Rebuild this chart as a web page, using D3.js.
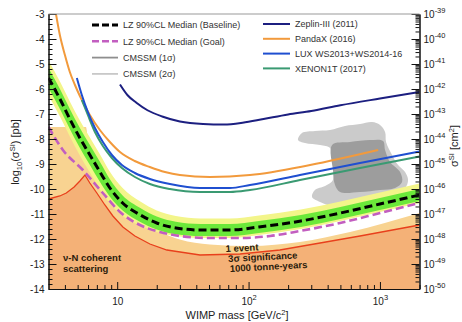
<!DOCTYPE html>
<html><head><meta charset="utf-8">
<script src="https://cdn.jsdelivr.net/npm/d3@7"></script>
<style>
body{margin:0;background:#fff}
svg{display:block}
text{font-family:"Liberation Sans",Arial,Helvetica,sans-serif}
</style>
</head><body>
<svg id="chart" width="462" height="322"></svg>
<script>
// WIMP mass (GeV/c^2) grid of the LZ projection, log10 cross-section in pb
const lzMass      = [3, 3.7, 4.4, 5.2, 6.2, 7.4, 8.8, 11, 15, 20, 28, 43, 72, 120, 250, 500, 1000, 2000];
const lzBaseline  = [-5.56, -6.44, -7.24, -7.96, -8.64, -9.32, -9.96, -10.56, -11.04, -11.36, -11.56, -11.64, -11.64, -11.52, -11.28, -10.96, -10.60, -10.24];
const lzGreenHi   = [-5.16, -6.04, -6.84, -7.56, -8.24, -8.92, -9.61, -10.26, -10.76, -11.10, -11.31, -11.40, -11.40, -11.28, -11.04, -10.72, -10.36, -10.00];
const lzGreenLo   = [-5.96, -6.84, -7.64, -8.36, -9.04, -9.72, -10.31, -10.86, -11.32, -11.62, -11.81, -11.88, -11.88, -11.76, -11.52, -11.20, -10.84, -10.48];
const lzYellowHi  = [-4.86, -5.74, -6.54, -7.26, -7.94, -8.62, -9.31, -9.96, -10.50, -10.86, -11.08, -11.18, -11.18, -11.06, -10.82, -10.50, -10.14, -9.78];
const lzYellowLo  = [-6.26, -7.14, -7.94, -8.66, -9.34, -10.02, -10.58, -11.08, -11.46, -11.72, -11.88, -11.96, -11.96, -11.84, -11.60, -11.28, -10.92, -10.56];

const goalMass    = [3, 3.86, 5.48, 7.78, 10.5, 14.9, 21.1, 30, 50.8, 86, 146, 246, 497, 1003, 2000];
const goalLimit   = [-7.52, -8.44, -9.24, -10.16, -10.92, -11.44, -11.72, -11.88, -11.96, -11.96, -11.88, -11.68, -11.36, -10.96, -10.56];

// Published experimental limits
const zeplinMass  = [10.5, 12, 14, 17, 22, 30, 45, 65, 90, 130, 200, 300, 500, 1000, 2000];
const zeplinLimit = [-5.82, -6.25, -6.55, -6.85, -7.10, -7.30, -7.40, -7.42, -7.35, -7.20, -7.02, -6.88, -6.65, -6.38, -6.12];
const pandaxMass  = [3.41, 3.66, 4.0, 4.36, 4.77, 5.2, 6.19, 7.38, 8.8, 10.5, 13.6, 17.7, 23.1, 30, 50.8, 102.5, 294, 968];
const pandaxLimit = [-2.96, -3.84, -4.64, -5.32, -5.84, -6.28, -7.04, -7.64, -8.12, -8.52, -8.88, -9.12, -9.32, -9.44, -9.52, -9.44, -9.04, -8.44];
const luxMass     = [4.93, 5.38, 5.98, 6.77, 7.78, 9.11, 10.86, 13.64, 17.74, 25.2, 42.7, 72.2, 102.5, 246, 705, 2000];
const luxLimit    = [-5.56, -6.24, -6.92, -7.56, -8.12, -8.64, -9.04, -9.36, -9.60, -9.80, -9.96, -9.96, -9.84, -9.44, -8.96, -8.50];
const xenonMass   = [5.38, 5.98, 6.77, 7.78, 9.11, 10.86, 13.64, 17.74, 25.2, 42.7, 72.2, 102.5, 246, 705, 2000];
const xenonLimit  = [-6.44, -7.04, -7.72, -8.28, -8.76, -9.16, -9.52, -9.80, -10.00, -10.12, -10.12, -10.04, -9.64, -9.16, -8.70];

// Coherent neutrino scattering: 1-event line and upper edge of the shaded band
const nuMass      = [3, 3.66, 4.1, 4.7, 5.2, 5.68, 6.19, 7.0, 8.06, 9.27, 11.05, 13.64, 17.74, 23.9, 42.7, 86, 173, 350, 705, 2000];
const nuLine      = [-10.40, -10.28, -10.16, -9.92, -9.68, -9.44, -9.76, -10.16, -10.64, -11.08, -11.52, -11.88, -12.20, -12.44, -12.64, -12.60, -12.44, -12.16, -11.88, -11.44];
const nuTopMass   = [3, 5.78, 6.19, 7.38, 8.8, 11.05, 14.9, 21.1, 30, 50.8, 102.5, 246, 592, 2000];
const nuTop       = [-7.52, -7.52, -8.84, -9.64, -10.28, -10.84, -11.32, -11.72, -12.02, -12.22, -12.28, -12.12, -11.72, -10.96];

// CMSSM favoured regions (mass, log10 sigma) outlines
const cmssm2Mass  = [238, 255, 320, 417, 542, 705, 871, 1002, 1094, 1113, 1236, 1373, 1553, 1637, 1553, 1303, 918, 705, 592, 542, 455, 350, 304, 320, 382, 439, 432, 417, 350, 269];
const cmssm2Sigma = [-8.04, -7.76, -7.68, -7.64, -7.48, -7.40, -7.32, -7.44, -7.72, -8.12, -8.64, -9.04, -9.32, -9.64, -9.96, -10.12, -10.24, -10.44, -10.64, -10.92, -10.76, -10.52, -10.32, -10.04, -9.88, -9.64, -8.84, -8.36, -8.24, -8.16];
const cmssm1Mass  = [432, 592, 841, 1056, 1094, 1194, 1423, 1473, 1303, 1002, 705, 497, 455, 439];
const cmssm1Sigma = [-8.24, -8.12, -8.04, -8.08, -8.44, -8.92, -9.32, -9.72, -9.96, -10.04, -10.12, -10.12, -9.84, -9.24];

// Axis ticks
const yTickValues    = [-3, -4, -5, -6, -7, -8, -9, -10, -11, -12, -13, -14];
const cmTickValues   = [-39, -40, -41, -42, -43, -44, -45, -46, -47, -48, -49, -50];
const massTickValues = [10, 100, 1000];
const massTickLabels = [["10", ""], ["10", "2"], ["10", "3"]];

const svg = d3.select("#chart");
const L = 48.5, R = 419.5, T = 14, B = 289;
const x = d3.scaleLog().domain([3, 2000]).range([L, R]);
const y = d3.scaleLinear().domain([-3, -14]).range([T, B]);
const yCm = d3.scaleLinear().domain([-39, -50]).range([T, B]);

svg.append("defs").append("clipPath").attr("id", "plot")
  .append("rect").attr("x", L).attr("y", T).attr("width", R - L).attr("height", B - T);
const g = svg.append("g").attr("clip-path", "url(#plot)");

const zip = (a, b) => a.map((m, i) => [m, b[i]]);
const line = d3.line().x(d => x(d[0])).y(d => y(d[1])).curve(d3.curveMonotoneX);
const areaDown = d3.area().x(d => x(d[0])).y0(B + 2).y1(d => y(d[1])).curve(d3.curveMonotoneX);
const band = (hi, lo) => d3.area().x((d, i) => x(lzMass[i])).y1((d, i) => y(hi[i])).y0((d, i) => y(lo[i])).curve(d3.curveMonotoneX)(lzMass);

// neutrino background regions
g.append("path").attr("d", areaDown(zip(nuTopMass, nuTop))).attr("fill", "#f8d391");
g.append("path").attr("d", areaDown.curve(d3.curveLinear)(zip(nuMass, nuLine))).attr("fill", "#f4b177");
g.append("path").attr("d", d3.line().x(d => x(d[0])).y(d => y(d[1]))(zip(nuMass, nuLine)))
  .attr("fill", "none").attr("stroke", "#e8401c").attr("stroke-width", 1.3);

// CMSSM regions
const blob = d3.line().x(d => x(d[0])).y(d => y(d[1])).curve(d3.curveCatmullRomClosed.alpha(0.5));
g.append("path").attr("d", blob(zip(cmssm2Mass, cmssm2Sigma))).attr("fill", "#cbcbcb");
g.append("path").attr("d", blob(zip(cmssm1Mass, cmssm1Sigma))).attr("fill", "#9d9d9d");

// LZ sensitivity bands
g.append("path").attr("d", band(lzYellowHi, lzYellowLo)).attr("fill", "#f3f58a");
g.append("path").attr("d", band(lzGreenHi, lzGreenLo)).attr("fill", "#6be83a");

// experimental limits
const limits = [
  [zeplinMass, zeplinLimit, "#1c1f80"],
  [pandaxMass, pandaxLimit, "#f29a3c"],
  [xenonMass, xenonLimit, "#3a9a72"],
  [luxMass, luxLimit, "#1f4fd0"]
];
limits.forEach(([m, v, c]) => {
  g.append("path").attr("d", line(zip(m, v))).attr("fill", "none")
    .attr("stroke", c).attr("stroke-width", 2);
});

// LZ medians
g.append("path").attr("d", line(zip(goalMass, goalLimit))).attr("fill", "none")
  .attr("stroke", "#c25ec0").attr("stroke-width", 2.6).attr("stroke-dasharray", "8,4");
g.append("path").attr("d", line(zip(lzMass, lzBaseline))).attr("fill", "none")
  .attr("stroke", "#000").attr("stroke-width", 3).attr("stroke-dasharray", "8,4");

// annotations
const note = svg.append("g").attr("font-weight", "bold").attr("font-size", 9.5).attr("fill", "#2b1c0c");
note.append("text").attr("x", 63).attr("y", 261).text("ν-N coherent");
note.append("text").attr("x", 63).attr("y", 271.5).text("scattering");
const ev = note.append("g").attr("transform", "rotate(-3,228,255)");
ev.append("text").attr("x", 226).attr("y", 252).text("1 event");
ev.append("text").attr("x", 228).attr("y", 262).text("3σ significance");
ev.append("text").attr("x", 229).attr("y", 272).text("1000 tonne-years");

// axes
const axes = svg.append("g").attr("font-size", 11);
axes.append("g").attr("transform", `translate(${L},0)`)
  .call(d3.axisLeft(y).tickValues(yTickValues).tickSize(-8).tickSizeOuter(0).tickPadding(4).tickFormat(d => String(d)));
axes.append("g").attr("transform", `translate(${L},0)`)
  .call(d3.axisLeft(y).tickValues(d3.range(-14, -3, 0.2).filter(v => Math.abs(v - Math.round(v)) > 0.01)).tickSize(-4).tickSizeOuter(0).tickFormat(""));

const minorCm = [];
for (let n = -50; n < -39; n++) for (let k = 2; k <= 9; k++) minorCm.push(n + Math.log10(k));
const right = axes.append("g").attr("transform", `translate(${R},0)`)
  .call(d3.axisRight(yCm).tickValues(cmTickValues).tickSize(-8).tickSizeOuter(0).tickPadding(4).tickFormat(""));
axes.append("g").attr("transform", `translate(${R},0)`)
  .call(d3.axisRight(yCm).tickValues(minorCm).tickSize(-4).tickSizeOuter(0).tickFormat(""));
right.selectAll(".tick text").each(function(d) {
  const t = d3.select(this);
  t.append("tspan").text("10");
  t.append("tspan").attr("dy", -5).attr("font-size", 7.5).text(String(d));
});

const bottom = axes.append("g").attr("transform", `translate(0,${B})`)
  .call(d3.axisBottom(x).tickValues(massTickValues).tickSize(-7).tickSizeOuter(0).tickPadding(9).tickFormat(""));
const minorMass = [4, 5, 6, 7, 8, 9, 20, 30, 40, 50, 60, 70, 80, 90, 200, 300, 400, 500, 600, 700, 800, 900, 2000];
axes.append("g").attr("transform", `translate(0,${B})`)
  .call(d3.axisBottom(x).tickValues(minorMass).tickSize(-4).tickSizeOuter(0).tickFormat(""));
bottom.selectAll(".tick text").each(function(d, i) {
  const t = d3.select(this);
  t.append("tspan").text(massTickLabels[i][0]);
  if (massTickLabels[i][1]) t.append("tspan").attr("dy", -5).attr("font-size", 7.5).text(massTickLabels[i][1]);
});
axes.selectAll(".tick text").attr("fill", "#222");
axes.selectAll(".domain, .tick line").attr("stroke", "#111");

// top frame
svg.append("line").attr("x1", L).attr("x2", R).attr("y1", T).attr("y2", T).attr("stroke", "#999");

// axis titles
const xt = svg.append("text").attr("x", 237).attr("y", 319).attr("text-anchor", "middle").attr("font-size", 11).attr("fill", "#222");
xt.append("tspan").text("WIMP mass [GeV/c");
xt.append("tspan").attr("dy", -4).attr("font-size", 7.5).text("2");
xt.append("tspan").attr("dy", 4).text("]");

const yt = svg.append("text").attr("transform", "translate(19,152) rotate(-90)").attr("text-anchor", "middle").attr("font-size", 11).attr("fill", "#222");
yt.append("tspan").text("log");
yt.append("tspan").attr("dy", 3).attr("font-size", 7.5).text("10");
yt.append("tspan").attr("dy", -3).text("(σ");
yt.append("tspan").attr("dy", -4).attr("font-size", 7.5).text("SI");
yt.append("tspan").attr("dy", 4).text(") [pb]");

const rt = svg.append("text").attr("transform", "translate(458,146) rotate(-90)").attr("text-anchor", "middle").attr("font-size", 11).attr("fill", "#222");
rt.append("tspan").text("σ");
rt.append("tspan").attr("dy", -4).attr("font-size", 7.5).text("SI");
rt.append("tspan").attr("dy", 4).text(" [cm");
rt.append("tspan").attr("dy", -4).attr("font-size", 7.5).text("2");
rt.append("tspan").attr("dy", 4).text("]");

// legends
const legL = [
  ["LZ 90%CL Median (Baseline)", "#000", 3, "7,3"],
  ["LZ 90%CL Median (Goal)", "#c25ec0", 2.4, "7,3"],
  ["CMSSM (1σ)", "#8e8e8e", 1.8, null],
  ["CMSSM (2σ)", "#c8c8c8", 1.8, null]
];
const legR = [
  ["Zeplin-III (2011)", "#1c1f80"],
  ["PandaX (2016)", "#f29a3c"],
  ["LUX WS2013+WS2014-16", "#1f4fd0"],
  ["XENON1T (2017)", "#3a9a72"]
];
const leg = svg.append("g").attr("font-size", 9).attr("fill", "#333");
legL.forEach(([label, c, w, dash], i) => {
  const yy = 25 + i * 16.3;
  const ln = leg.append("line").attr("x1", 92).attr("x2", 118).attr("y1", yy).attr("y2", yy).attr("stroke", c).attr("stroke-width", w);
  if (dash) ln.attr("stroke-dasharray", dash);
  leg.append("text").attr("x", 123).attr("y", yy + 3.2).text(label);
});
legR.forEach(([label, c], i) => {
  const yy = 24 + i * 14.8;
  leg.append("line").attr("x1", 263).attr("x2", 290).attr("y1", yy).attr("y2", yy).attr("stroke", c).attr("stroke-width", 2);
  leg.append("text").attr("x", 295).attr("y", yy + 3.2).text(label);
});
</script>
</body></html>
